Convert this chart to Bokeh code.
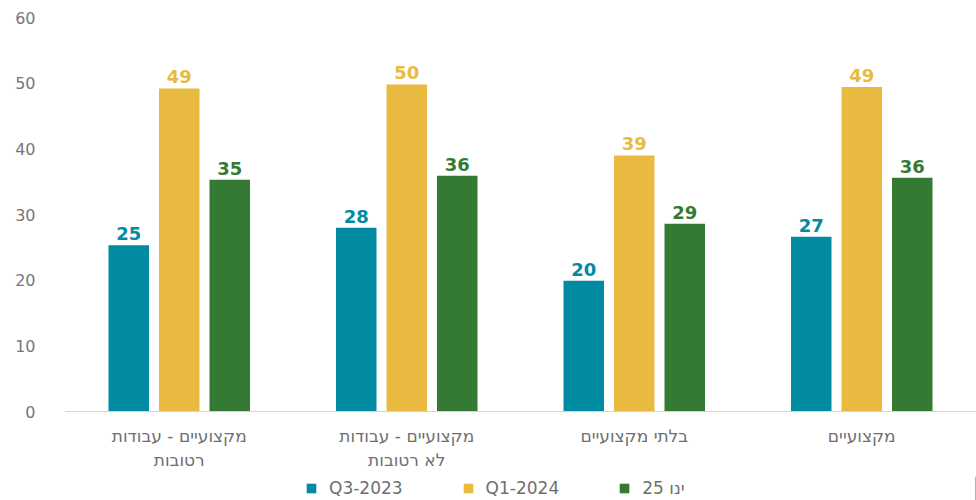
from bokeh.plotting import figure
from bokeh.layouts import column
from bokeh.models import ColumnDataSource, FactorRange, Legend, LegendItem, LabelSet, Range1d, FixedTicker
from bokeh.core.properties import value
from bokeh.transform import dodge
from bokeh.embed import file_html
from bokeh.resources import INLINE

categories = ["מקצועיים - עבודות\nרטובות", "מקצועיים - עבודות\nלא רטובות", "בלתי מקצועיים", "מקצועיים"]
series = ["Q3-2023", "Q1-2024", "ינו 25"]
q3_2023 = [25.3, 28.0, 19.9, 26.6]
q1_2024 = [49.2, 49.8, 39.0, 49.4]
jan_2025 = [35.3, 35.9, 28.6, 35.6]
y_ticks = [0, 10, 20, 30, 40, 50, 60]

colors = ["#008BA3", "#E8BB40", "#357A32"]
offsets = [-0.222, 0.0, 0.222]
FONT = "DejaVu Sans"

p = figure(x_range=FactorRange(*categories, range_padding=0), y_range=Range1d(0, 60),
           width=976, height=476, output_backend="svg", toolbar_location=None,
           min_border_left=65, min_border_right=1, min_border_top=17, min_border_bottom=65)
p.outline_line_color = None
p.xgrid.visible = False
p.ygrid.visible = False

for vals, col, off in zip([q3_2023, q1_2024, jan_2025], colors, offsets):
    src = ColumnDataSource(dict(cat=categories, v=vals, lbl=[str(int(round(x))) for x in vals]))
    p.vbar(x=dodge("cat", off, range=p.x_range), top="v", width=0.178, source=src,
           fill_color=col, line_color=None)
    ls = LabelSet(x=dodge("cat", off, range=p.x_range), y="v", text="lbl", source=src,
                  text_align="center", text_baseline="bottom", y_offset=5,
                  text_color=col, text_font=value(FONT), text_font_size="18px",
                  text_font_style="bold")
    p.add_layout(ls)

p.yaxis.ticker = FixedTicker(ticks=y_ticks)
p.yaxis.axis_line_color = None
p.yaxis.major_tick_line_color = None
p.yaxis.minor_tick_line_color = None
p.yaxis.major_label_standoff = 24
p.yaxis.major_label_text_color = "#777777"
p.yaxis.major_label_text_font = FONT
p.yaxis.major_label_text_font_size = "16px"

p.xaxis.axis_line_color = "#d4d4d4"
p.xaxis.major_tick_line_color = None
p.xaxis.major_label_standoff = 8
p.xaxis.major_label_text_color = "#6f6f6f"
p.xaxis.major_label_text_font = FONT
p.xaxis.major_label_text_font_size = "17px"

# legend strip (swatch renderers sit outside the strip's visible range)
p2 = figure(width=976, height=24, x_range=(0, 1), y_range=(0, 1), output_backend="svg",
            toolbar_location=None, min_border=0, x_axis_location=None, y_axis_location=None)
p2.outline_line_color = None
p2.grid.visible = False
items = []
for name, col in zip(series, colors):
    r = p2.vbar(x=[5], top=[1], bottom=[0], width=0.1, fill_color=col, line_color=None)
    items.append(LegendItem(label=name, renderers=[r]))
legend = Legend(items=items, orientation="horizontal", location=(240, 2),
                label_text_font=FONT, label_text_font_size="17px", label_text_color="#6f6f6f",
                glyph_width=12, glyph_height=12, spacing=59, label_standoff=12,
                label_height=18, border_line_color=None, background_fill_alpha=0,
                padding=0, margin=0)
p2.add_layout(legend)

layout = column(p, p2, spacing=0)
open("out.html", "w").write(file_html(layout, INLINE))
